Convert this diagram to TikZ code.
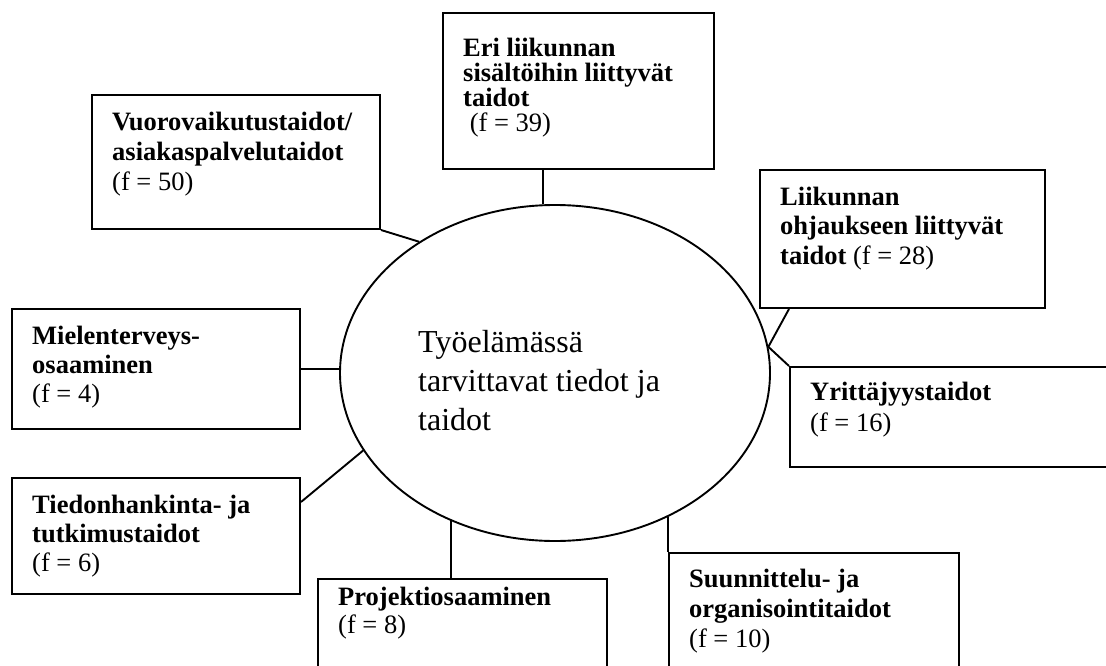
\documentclass[tikz,border=0pt]{standalone}
\usepackage{fontspec}
\setmainfont{Liberation Serif}
\usetikzlibrary{shapes.geometric}
\newcommand\bxtxt[3]{\parbox[t]{420pt}{\parindent=0pt\raggedright\fontsize{#1}{#2}\selectfont #3}}
\begin{document}
\begin{tikzpicture}[x=1pt,y=-1pt,
  box/.style={draw, line width=2pt, rectangle, inner sep=0pt, anchor=north west},
  lbl/.style={inner sep=0pt, anchor=base west},
  link/.style={line width=1.9pt}]
\path[use as bounding box, clip] (0,0) rectangle (1106,666);
\fill[white] (0,0) rectangle (1106,666);
% central ellipse
\node[ellipse, draw, line width=1.9pt, minimum width=430pt, minimum height=336pt, inner sep=0pt] (ell) at (555,373) {};
% boxes
\node[box, minimum width=271pt, minimum height=156pt] (eri) at (442,12) {};
\node[box, minimum width=288pt, minimum height=134pt] (vuo) at (91,94) {};
\node[box, minimum width=285pt, minimum height=138pt] (lii) at (759,169) {};
\node[box, minimum width=288pt, minimum height=120pt] (mie) at (11,308) {};
\node[box, minimum width=288pt, minimum height=116pt] (tie) at (11,477) {};
\node[box, minimum width=340pt, minimum height=100pt] (yri) at (789,366) {};
\node[box, minimum width=289pt, minimum height=120pt] (pro) at (317,578) {};
\node[box, minimum width=290pt, minimum height=150pt] (sun) at (668,552) {};
% connectors
\draw[link] (ell.94.09) -- (ell.94.09 |- eri.south);
\draw[link] (vuo.south east) -- (ell.136.9);
\draw[link] (yri.north west |- lii.south) -- (ell.7.2) -- (yri.north west);
\draw[link] (mie.east) -- (ell.west |- mie.east);
\draw[link] ([yshift=-25pt]tie.north east) -- (ell.202.5);
\draw[link] (ell.235.07) -- (ell.235.07 |- pro.north);
\draw[link] (sun.north west) -- (sun.north west |- ell.308.33);
% texts
\node[lbl] (tell) at (418,352) {\bxtxt{32}{39}{Työelämässä\\ tarvittavat tiedot ja\\ taidot}};
\node[lbl] (teri) at (463,57) {\bxtxt{26.5}{25}{\textbf{Eri liikunnan}\\ \textbf{sisältöihin liittyvät}\\ \textbf{taidot}\\ \hspace*{0.25em}(f = 39)}};
\node[lbl] (tvuo) at (112,131) {\bxtxt{26.5}{30}{\textbf{Vuorovaikutustaidot/}\\ \textbf{asiakaspalvelutaidot}\\ (f = 50)}};
\node[lbl] (tlii) at (780,205) {\bxtxt{26.5}{29.5}{\textbf{Liikunnan}\\ \textbf{ohjaukseen liittyvät}\\ \textbf{taidot} (f = 28)}};
\node[lbl] (tmie) at (32,344) {\bxtxt{26.5}{29}{\textbf{Mielenterveys-}\\ \textbf{osaaminen}\\ (f = 4)}};
\node[lbl] (ttie) at (32,513) {\bxtxt{26.5}{29}{\textbf{Tiedonhankinta- ja}\\ \textbf{tutkimustaidot}\\ (f = 6)}};
\node[lbl] (tyri) at (810,400) {\bxtxt{26.5}{31}{\textbf{Yrittäjyystaidot}\\ (f = 16)}};
\node[lbl] (tpro) at (338,605) {\bxtxt{26.5}{28}{\textbf{Projektiosaaminen}\\ (f = 8)}};
\node[lbl] (tsun) at (689,587) {\bxtxt{26.5}{30}{\textbf{Suunnittelu- ja}\\ \textbf{organisointitaidot}\\ (f = 10)}};
\end{tikzpicture}
\end{document}
